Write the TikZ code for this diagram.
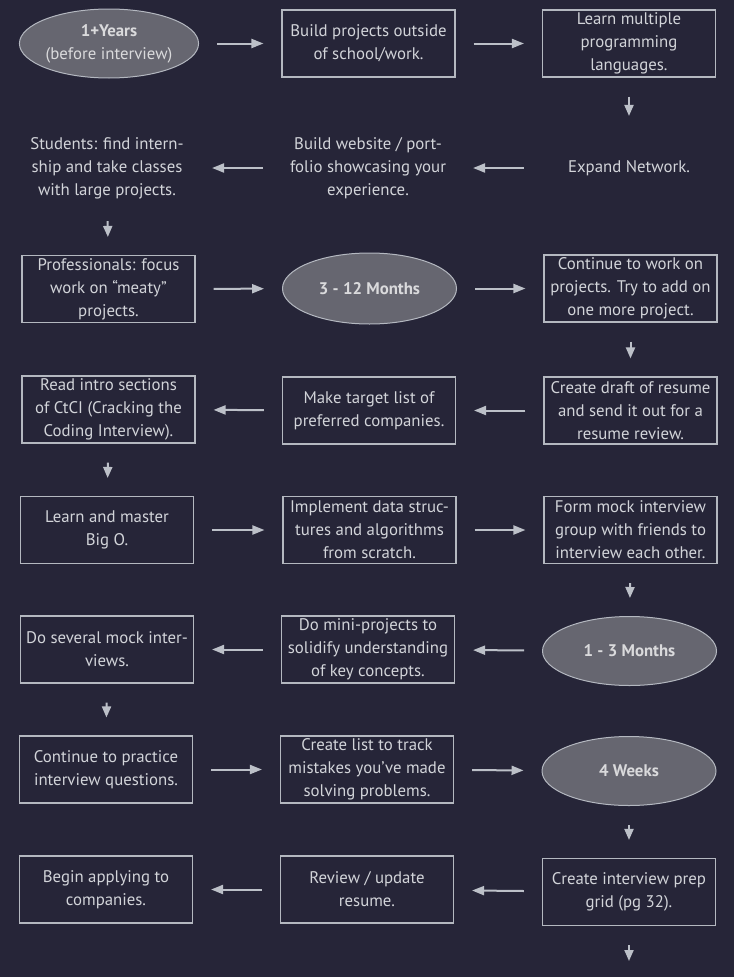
\documentclass[tikz,border=0pt]{standalone}
\usepackage{fontspec}
\setmainfont{PT Sans}
\usetikzlibrary{shapes.geometric,arrows.meta}
\definecolor{bg}{HTML}{262538}
\definecolor{boxline}{HTML}{B4B8C0}
\definecolor{txt}{HTML}{D2D4D9}
\definecolor{ovalfill}{HTML}{666670}
\definecolor{ovaltxt}{HTML}{DADADC}
\definecolor{arrcol}{HTML}{BCC0C8}
\tikzset{
  stepbox/.style={draw=boxline, line width=1.1pt, minimum width=173pt, minimum height=67pt,
    inner sep=0pt, align=center, text=txt, font=\fontsize{16.8}{23}\selectfont},
  plaintext/.style={stepbox, draw=none},
  oval/.style={ellipse, draw=boxline, fill=ovalfill, line width=1pt, minimum width=174pt,
    minimum height=69pt, inner sep=0pt, align=center, text=ovaltxt,
    font=\fontsize{16.8}{23}\selectfont\bfseries},
  harr/.style={-{Triangle[length=12pt,width=9pt]}, line width=2pt, draw=arrcol,
    shorten <=18pt, shorten >=18pt},
  varr/.style={-{Triangle[length=11pt,width=9pt]}, line width=2pt, draw=arrcol,
    shorten <=19pt, shorten >=18pt}
}
\begin{document}
\begin{tikzpicture}[x=1pt,y=-1pt]
\fill[bg] (0,0) rectangle (734,977);
\useasboundingbox (0,0) rectangle (734,977);
% row 1
\node[oval] (e11) at (109,43.5) {1+Years\\{\mdseries (before interview)}};
\node[stepbox] (b12) at (368.5,43.5) {Build projects outside\\of school/work.};
\node[stepbox] (b13) at (629,43.5) {Learn multiple\\programming\\languages.};
% row 2
\node[plaintext] (t21) at (107,168) {Students: find intern-\\ship and take classes\\with large projects.};
\node[plaintext] (t22) at (368,168) {Build website / port-\\folio showcasing your\\experience.};
\node[plaintext] (t23) at (629,168) {Expand Network.};
% row 3
\node[stepbox] (b31) at (108.5,289) {Professionals: focus\\work on “meaty”\\projects.};
\node[oval, minimum height=71pt] (e32) at (369.5,288.5) {3 - 12 Months};
\node[stepbox] (b33) at (630.5,288.5) {Continue to work on\\projects. Try to add on\\one more project.};
% row 4
\node[stepbox] (b41) at (108.5,409.5) {Read intro sections\\of CtCI (Cracking the\\Coding Interview).};
\node[stepbox] (b42) at (369,410.5) {Make target list of\\preferred companies.};
\node[stepbox] (b43) at (630.5,410.5) {Create draft of resume\\and send it out for a\\resume review.};
% row 5
\node[stepbox] (b51) at (107,530) {Learn and master\\Big O.};
\node[stepbox] (b52) at (369.5,530) {Implement data struc-\\tures and algorithms\\from scratch.};
\node[stepbox] (b53) at (630.5,530) {Form mock interview\\group with friends to\\interview each other.};
% row 6
\node[stepbox] (b61) at (107,649.5) {Do several mock inter-\\views.};
\node[stepbox] (b62) at (368,649.5) {Do mini-projects to\\solidify understanding\\of key concepts.};
\node[oval] (e63) at (629.5,651) {1 - 3 Months};
% row 7
\node[stepbox] (b71) at (106,769.5) {Continue to practice\\interview questions.};
\node[stepbox] (b72) at (367,769.5) {Create list to track\\mistakes you’ve made\\solving problems.};
\node[oval] (e73) at (629,771) {4 Weeks};
% row 8
\node[stepbox] (b81) at (106,889.5) {Begin applying to\\companies.};
\node[stepbox] (b82) at (367,889.5) {Review / update\\resume.};
\node[stepbox] (b83) at (629,892) {Create interview prep\\grid (pg 32).};
\coordinate (fin) at (629,961);
% horizontal arrows
\draw[harr] (e11) -- (b12);
\draw[harr] (b12) -- (b13);
\draw[harr] (t23) -- (t22);
\draw[harr] (t22) -- (t21);
\draw[harr] (b31) -- (e32);
\draw[harr] (e32) -- (b33);
\draw[harr] (b43) -- (b42);
\draw[harr] (b42) -- (b41);
\draw[harr] (b51) -- (b52);
\draw[harr] (b52) -- (b53);
\draw[harr] (e63) -- (b62);
\draw[harr] (b62) -- (b61);
\draw[harr] (b71) -- (b72);
\draw[harr] (b72) -- (e73);
\draw[harr] (b83) -- (b82);
\draw[harr] (b82) -- (b81);
% vertical arrows
\draw[varr] (b13) -- (t23);
\draw[varr] (t21) -- (b31);
\draw[varr] (b33) -- (b43);
\draw[varr] (b41) -- (b51);
\draw[varr] (b53) -- (e63);
\draw[varr] (b61) -- (b71);
\draw[varr] (e73) -- (b83);
\draw[varr, shorten >=0pt] (b83) -- (fin);
\end{tikzpicture}
\end{document}
